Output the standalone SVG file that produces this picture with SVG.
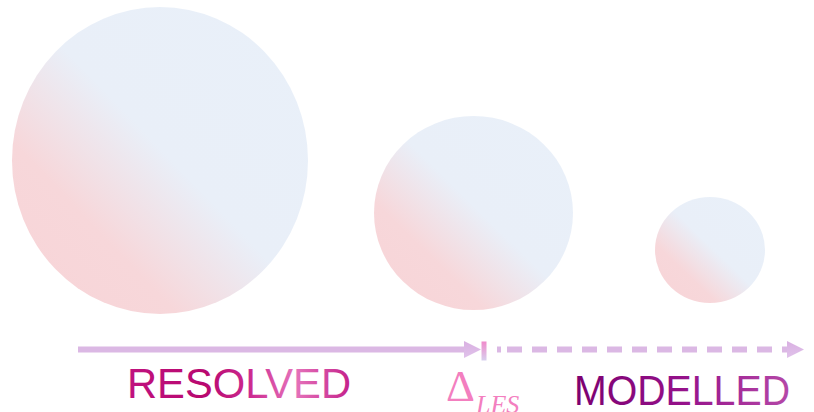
<svg xmlns="http://www.w3.org/2000/svg" width="814" height="412" viewBox="0 0 814 412">
  <defs>
    <linearGradient id="ball" x1="0" y1="1" x2="1" y2="0">
      <stop offset="0" stop-color="#f8d4d7"/>
      <stop offset="0.28" stop-color="#f7d7da"/>
      <stop offset="0.52" stop-color="#e9eff8"/>
      <stop offset="1" stop-color="#e9f0f9"/>
    </linearGradient>
    <linearGradient id="tick" x1="0" y1="0" x2="0" y2="1">
      <stop offset="0" stop-color="#f08acb"/>
      <stop offset="1" stop-color="#d8d0ee"/>
    </linearGradient>
    <linearGradient id="head" x1="0" y1="0" x2="0" y2="1">
      <stop offset="0" stop-color="#d9b0e2"/>
      <stop offset="1" stop-color="#e0c2ea"/>
    </linearGradient>
    <linearGradient id="resolved" x1="0" y1="0" x2="1" y2="0">
      <stop offset="0" stop-color="#c0127f"/>
      <stop offset="0.35" stop-color="#b8086f"/>
      <stop offset="0.55" stop-color="#cc2a90"/>
      <stop offset="0.75" stop-color="#e573bb"/>
      <stop offset="1" stop-color="#c4208a"/>
    </linearGradient>
    <linearGradient id="modelled" x1="0" y1="0" x2="1" y2="0">
      <stop offset="0" stop-color="#7c0070"/>
      <stop offset="0.5" stop-color="#95118a"/>
      <stop offset="1" stop-color="#b548a8"/>
    </linearGradient>
    <marker id="arrow" viewBox="0 0 17 17" refX="0" refY="8.5" markerWidth="17" markerHeight="17" markerUnits="userSpaceOnUse" orient="auto">
      <path d="M0,0 L17,8.5 L0,17 Z" fill="url(#head)"/>
    </marker>
    <style>
      .ball { fill: url(#ball); }
      .axis { stroke: #dbb8e4; stroke-width: 6; fill: none; }
    </style>
  </defs>

  <g id="circle-large">
    <ellipse class="ball" cx="160" cy="160.5" rx="148" ry="153.5"/>
  </g>
  <g id="circle-medium">
    <ellipse class="ball" cx="473.5" cy="213" rx="99.5" ry="97"/>
  </g>
  <g id="circle-small">
    <ellipse class="ball" cx="710" cy="250" rx="55" ry="53"/>
  </g>

  <g id="connectors">
    <line class="axis" x1="78" y1="349.5" x2="464" y2="349.5" marker-end="url(#arrow)"/>
    <rect x="481.5" y="341.5" width="5" height="19" fill="url(#tick)"/>
    <line class="axis" x1="497" y1="349.5" x2="501" y2="349.5"/>
    <line class="axis" x1="507" y1="349.5" x2="787" y2="349.5" stroke-dasharray="15 10" marker-end="url(#arrow)"/>
  </g>

  <g id="labels">
    <text x="127" y="398" font-family="Liberation Sans, Arial, sans-serif" font-size="43" textLength="224" lengthAdjust="spacingAndGlyphs" fill="url(#resolved)">RESOLVED</text>
    <text x="574" y="405" font-family="Liberation Sans, Arial, sans-serif" font-size="43" textLength="216" lengthAdjust="spacingAndGlyphs" fill="url(#modelled)">MODELLED</text>
    <text x="446" y="401" font-family="Liberation Serif, Times New Roman, serif" font-size="45" fill="#f37fbf">Δ</text>
    <text x="476" y="413" font-family="Liberation Serif, Times New Roman, serif" font-style="italic" font-size="26" fill="#f37fbf">LES</text>
  </g>
</svg>
